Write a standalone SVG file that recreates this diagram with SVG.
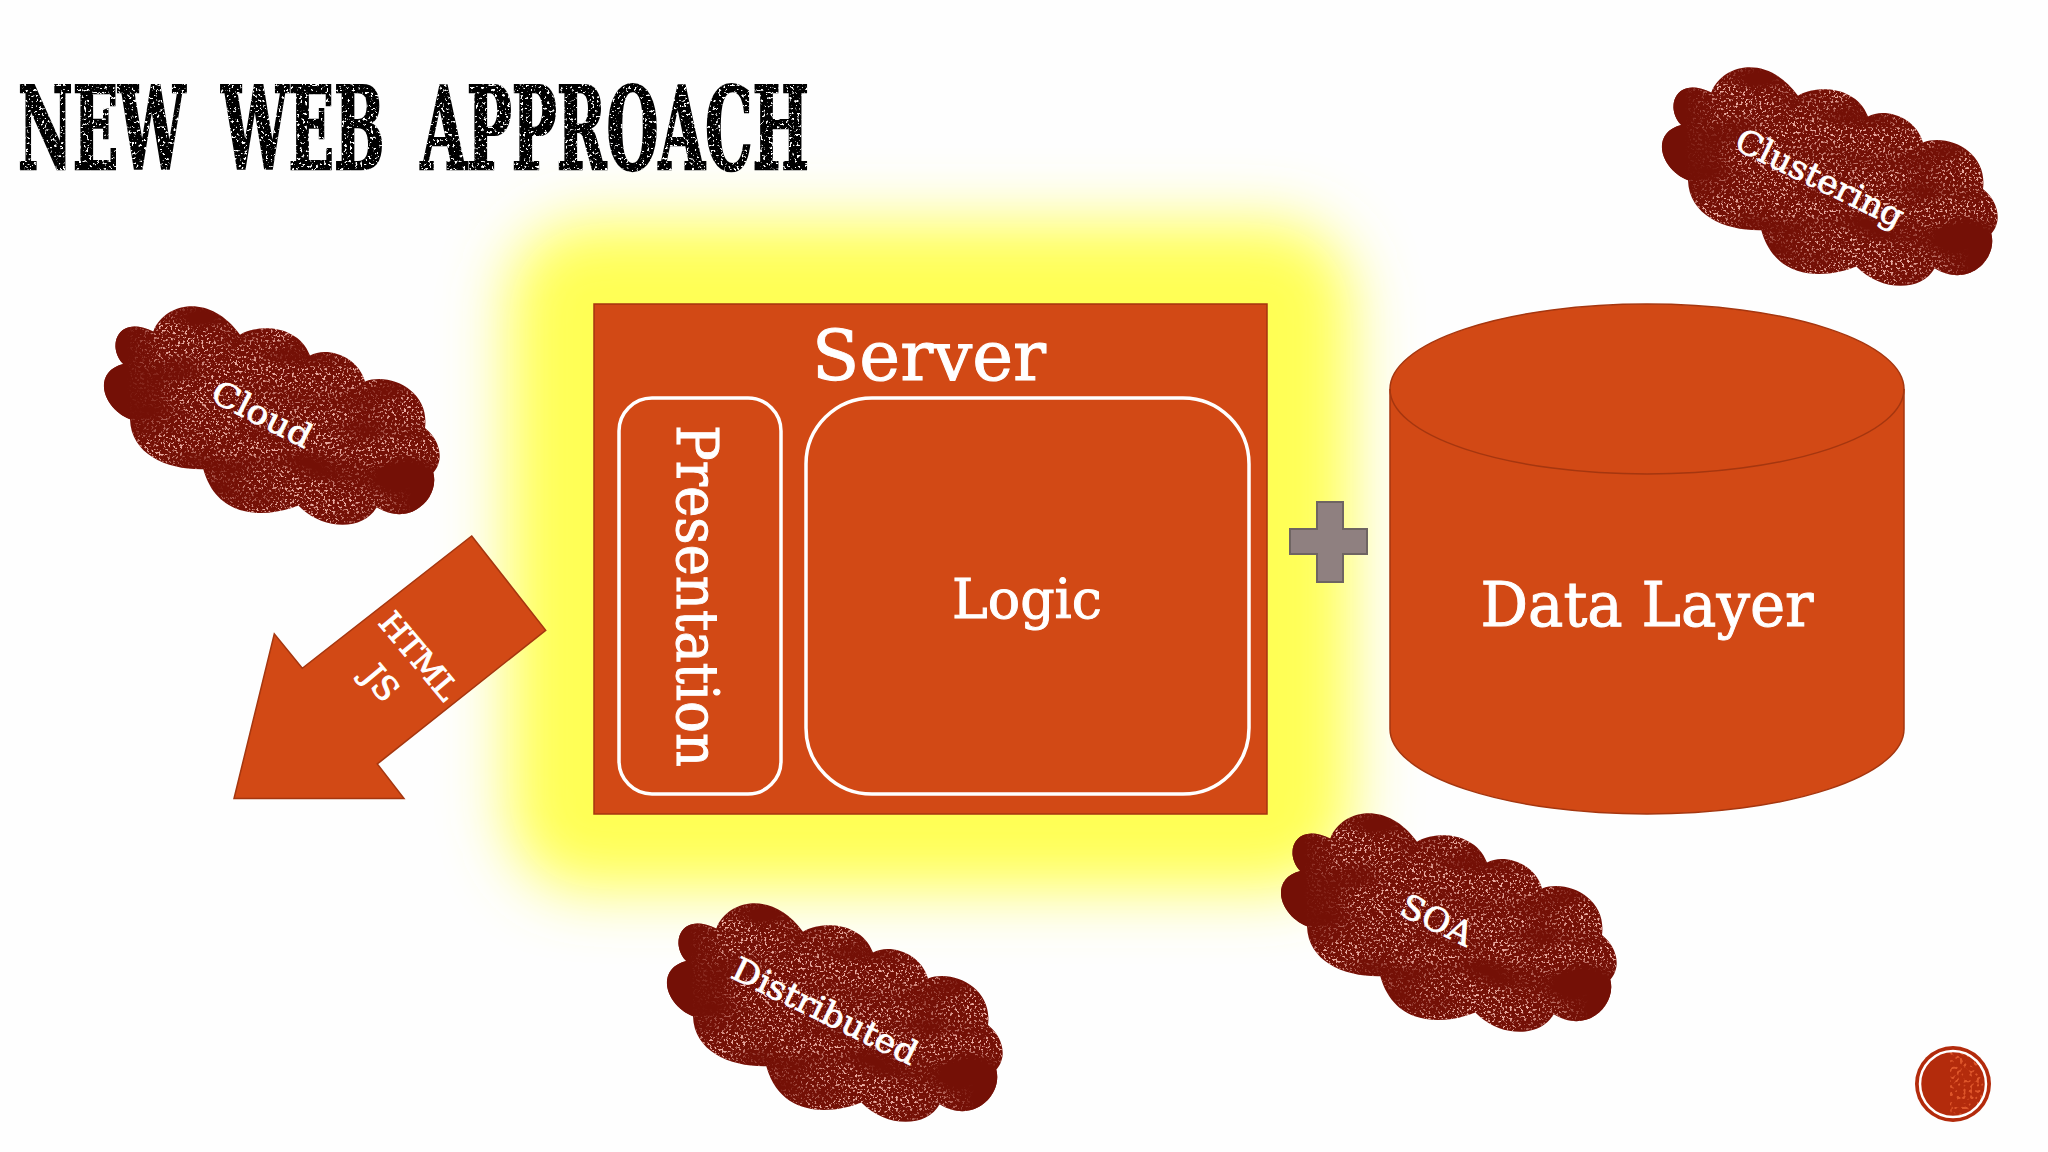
<svg xmlns="http://www.w3.org/2000/svg" xmlns:xlink="http://www.w3.org/1999/xlink" width="2048" height="1152" viewBox="0 0 2048 1152">
<style>
.shape{fill:#d24915;stroke:#a5360f;stroke-width:1.5}
.inner{fill:#d24915;stroke:#fff;stroke-width:3.5}
.t{font-family:"DejaVu Serif","Liberation Serif",serif;fill:#fff;stroke:#fff;stroke-width:1;text-anchor:middle}
.c{font-family:"DejaVu Serif","Liberation Serif",serif;fill:#fff;stroke:#fff;stroke-width:.8;text-anchor:middle;font-size:33px}
</style>
<defs>
<filter id="glow" x="-25%" y="-25%" width="150%" height="150%"><feGaussianBlur stdDeviation="31"/></filter>
<filter id="grunge" filterUnits="userSpaceOnUse" x="0" y="0" width="370" height="250" color-interpolation-filters="sRGB">
<feTurbulence type="fractalNoise" baseFrequency="0.42" numOctaves="2" seed="7" result="fine"/>
<feColorMatrix in="fine" type="matrix" values="0 0 0 0 .92  0 0 0 0 .68  0 0 0 0 .64  9 0 0 0 -5.05" result="spots"/>
<feTurbulence type="fractalNoise" baseFrequency="0.012 0.03" numOctaves="2" seed="3" result="coarse"/>
<feColorMatrix in="coarse" type="matrix" values="0 0 0 0 0  0 0 0 0 0  0 0 0 0 0  3.4 0 0 0 -.95" result="patch"/>
<feComposite in="spots" in2="patch" operator="in" result="spots2"/>
<feComposite in="spots2" in2="SourceAlpha" operator="in" result="clip"/>
<feMerge><feMergeNode in="SourceGraphic"/><feMergeNode in="clip"/></feMerge>
</filter>
<filter id="worn" filterUnits="userSpaceOnUse" x="0" y="70" width="830" height="115" color-interpolation-filters="sRGB">
<feTurbulence type="fractalNoise" baseFrequency="0.38" numOctaves="2" seed="11"/>
<feColorMatrix type="matrix" values="0 0 0 0 1  0 0 0 0 1  0 0 0 0 1  10 0 0 0 -6" result="spots"/>
<feComposite in="spots" in2="SourceAlpha" operator="in" result="clip"/>
<feMerge><feMergeNode in="SourceGraphic"/><feMergeNode in="clip"/></feMerge>
</filter>
<filter id="dots" filterUnits="userSpaceOnUse" x="1950" y="1040" width="50" height="90" color-interpolation-filters="sRGB">
<feTurbulence type="fractalNoise" baseFrequency="0.3" numOctaves="1" seed="5"/>
<feColorMatrix type="matrix" values="0 0 0 0 .98  0 0 0 0 .45  0 0 0 0 .25  8 0 0 0 -4.4"/>
</filter>
<clipPath id="badge"><circle cx="1953" cy="1084" r="33"/></clipPath>
<linearGradient id="fadeL" x1="0" x2="1" y1="0" y2="0"><stop offset=".35" stop-color="#741006"/><stop offset="1" stop-color="#741006" stop-opacity="0"/></linearGradient>
<linearGradient id="fadeR" x1="1" x2="0" y1="0" y2="0"><stop offset=".4" stop-color="#741006"/><stop offset="1" stop-color="#741006" stop-opacity="0"/></linearGradient>
<g id="cloudShape">
<path fill="#741006" filter="url(#grunge)" d="M33.3 74.1C16 56 28 24 63.3 41.4C75 12 120 3 150 44.8C166.7 34 208 34 220 65.5C236.7 56 268 66 275 91.4C302 82 340 102 335 137.9C348 148 356 168 343.3 182.8C350 208 320 238 286.7 217.2C273.3 241 233.3 241 208.3 215.5C180 227 128 232 113.3 179.3C78 180 41 165 40 129.3C12 118 2 82 33.3 74.1Z"/>
<path fill="url(#fadeL)" d="M33.3 74.1C16 56 28 24 63.3 41.4L80 41L68 130L40 129.3C12 118 2 82 33.3 74.1Z"/>
<path fill="url(#fadeR)" d="M343.3 182.8C350 208 320 238 286.7 217.2L290 180Z"/>
</g>
</defs>
<rect width="2048" height="1152" fill="#fefefe"/>
<rect id="highlight" x="508" y="222" width="844" height="668" rx="80" fill="#ffff55" filter="url(#glow)"/>
<text id="title" x="18" y="169" font-family="'DejaVu Serif Condensed','DejaVu Serif',serif" font-weight="700" font-size="114" word-spacing="26" fill="#000" stroke="#000" stroke-width="2.5" textLength="791" lengthAdjust="spacingAndGlyphs" filter="url(#worn)">NEW WEB APPROACH</text>
<g id="server">
<rect class="shape" x="594" y="304" width="673" height="510"/>
<text class="t" x="929" y="380" font-size="70" textLength="234" lengthAdjust="spacingAndGlyphs">Server</text>
</g>
<g id="presentation">
<rect class="inner" x="619" y="398" width="162" height="396" rx="33"/>
<text class="t" transform="translate(677 596) rotate(90)" font-size="57" textLength="342" lengthAdjust="spacingAndGlyphs">Presentation</text>
</g>
<g id="logic">
<rect class="inner" x="806" y="398" width="443" height="396" rx="66"/>
<text class="t" x="1027" y="618" font-size="55" textLength="150" lengthAdjust="spacingAndGlyphs">Logic</text>
</g>
<g id="plus"><path d="M1317 502H1343V529H1367V554H1343V582H1317V554H1290V529H1317Z" fill="#8f8080" stroke="#6e6462" stroke-width="2"/></g>
<g id="data-layer">
<path class="shape" d="M1390 389A257 85 0 0 1 1904 389V729A257 85 0 0 1 1390 729Z"/>
<path d="M1390 389A257 85 0 0 0 1904 389" fill="none" stroke="#a5360f" stroke-width="1.5"/>
<text class="t" x="1647" y="626" font-size="62" textLength="333" lengthAdjust="spacingAndGlyphs">Data Layer</text>
</g>
<g id="connectors">
<path class="shape" d="M471.7 536L545.7 630.3L377.3 764L404 798.6H234L274.3 633.8L302.3 668.3Z"/>
<text class="t" transform="translate(419 656) rotate(50)" font-size="31" dy=".35em" textLength="104" lengthAdjust="spacingAndGlyphs">HTML</text>
<text class="t" transform="translate(381 683) rotate(50)" font-size="33" dy=".35em">JS</text>
</g>
<g id="cloud-cloud"><use href="#cloudShape" transform="translate(90 290)"/><text class="c" transform="translate(262 414) rotate(27)" dy=".35em" textLength="108" lengthAdjust="spacingAndGlyphs">Cloud</text></g>
<g id="cloud-clustering"><use href="#cloudShape" transform="translate(1648 51)"/><text class="c" transform="translate(1820 178) rotate(26)" dy=".35em" textLength="183" lengthAdjust="spacingAndGlyphs">Clustering</text></g>
<g id="cloud-soa"><use href="#cloudShape" transform="translate(1267 797)"/><text class="c" transform="translate(1437 920) rotate(26)" dy=".35em" textLength="76" lengthAdjust="spacingAndGlyphs">SOA</text></g>
<g id="cloud-distributed"><use href="#cloudShape" transform="translate(653 887)"/><text class="c" transform="translate(825 1011) rotate(26)" dy=".35em" textLength="202" lengthAdjust="spacingAndGlyphs">Distributed</text></g>
<g id="badge-mark">
<circle cx="1953" cy="1084" r="38" fill="#b32b0c"/>
<g clip-path="url(#badge)"><rect x="1950" y="1040" width="50" height="90" filter="url(#dots)" opacity=".6"/></g>
<circle cx="1953" cy="1084" r="33" fill="none" stroke="#fff" stroke-width="2.5"/>
</g>
</svg>
